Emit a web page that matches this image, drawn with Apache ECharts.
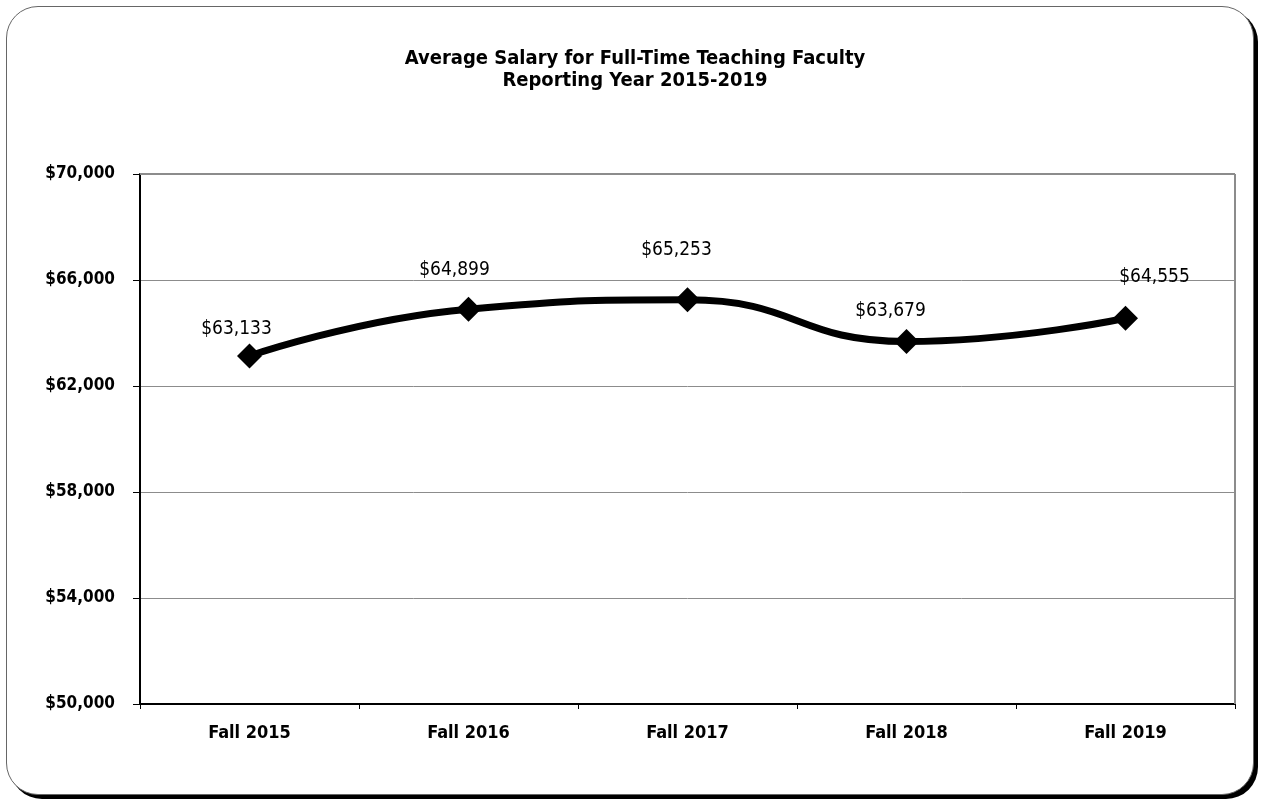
<!DOCTYPE html>
<html>
<head>
<meta charset="utf-8">
<script src="https://cdn.jsdelivr.net/npm/echarts@6/dist/echarts.min.js"></script>
<style>
html, body { margin: 0; padding: 0; background: #fff; }
.frame {
  position: absolute; left: 6px; top: 6px; width: 1246px; height: 787px;
  border: 1px solid #666; border-radius: 32px;
  box-shadow: 4px 4px 0 #000; background: #fff;
}
#salaryChart { position: absolute; left: 0; top: 0; width: 1261px; height: 804px; }
</style>
</head>
<body>
<div class="frame"></div>
<div id="salaryChart"></div>
<script>
var terms = ['Fall 2015', 'Fall 2016', 'Fall 2017', 'Fall 2018', 'Fall 2019']
var avgSalary = [63133, 64899, 65253, 63679, 64555]

// the value labels were hand placed in Excel: [dx, gap above marker]
var labelNudge = [[-13, 5], [-14, 17], [-11, 28], [-16, 8], [29, 19]]

var narrow = '"DejaVu Sans Condensed", "Liberation Sans Narrow", "Arial Narrow", sans-serif'
var money = function (v) { return '$' + v.toLocaleString('en-US') }

var chart = echarts.init(document.getElementById('salaryChart'))
chart.setOption({
  animation: false,
  title: {
    text: 'Average Salary for Full-Time Teaching Faculty\nReporting Year 2015-2019',
    left: 630,
    top: 43,
    textAlign: 'center',
    textStyle: { fontFamily: narrow, fontSize: 20, fontWeight: 'bold', color: '#000', lineHeight: 22 }
  },
  grid: { left: 140, right: 26, top: 174, bottom: 100 },
  xAxis: {
    type: 'category',
    data: terms,
    boundaryGap: true,
    axisLine: { lineStyle: { color: '#000', width: 2 } },
    axisTick: { show: true, length: 5, lineStyle: { color: '#000' } },
    axisLabel: { margin: 20, fontFamily: narrow, fontSize: 18, fontWeight: 'bold', color: '#000' }
  },
  yAxis: {
    type: 'value',
    min: 50000,
    max: 70000,
    interval: 4000,
    axisLine: { show: true, lineStyle: { color: '#000', width: 2 } },
    axisTick: { show: true, length: 7, lineStyle: { color: '#000' } },
    splitLine: { lineStyle: { color: '#8c8c8c', width: 1 } },
    axisLabel: {
      margin: 25,
      fontFamily: narrow, fontSize: 17, fontWeight: 'bold', color: '#000',
      formatter: money
    }
  },
  series: [
    {
      // top and right edges of the plot area
      type: 'line', data: [], silent: true,
      markLine: {
        symbol: 'none', silent: true, label: { show: false },
        lineStyle: { color: '#8c8c8c', width: 2, type: 'solid' },
        data: [[{ x: 140, y: 174 }, { x: 1235, y: 174 }], [{ x: 1235, y: 174 }, { x: 1235, y: 704 }]]
      }
    },
    {
      name: 'Average Salary',
      type: 'line',
      smooth: 0.5,
      data: avgSalary.map(function (v, i) {
        return { value: v, label: { offset: [labelNudge[i][0], 0], distance: labelNudge[i][1] } }
      }),
      symbol: 'diamond',
      symbolSize: 25,
      itemStyle: { color: '#000' },
      lineStyle: { color: '#000', width: 7 },
      label: {
        show: true,
        position: 'top',
        fontFamily: narrow,
        fontSize: 19,
        color: '#000',
        formatter: function (p) { return money(p.value) }
      }
    }
  ]
})
</script>
</body>
</html>
